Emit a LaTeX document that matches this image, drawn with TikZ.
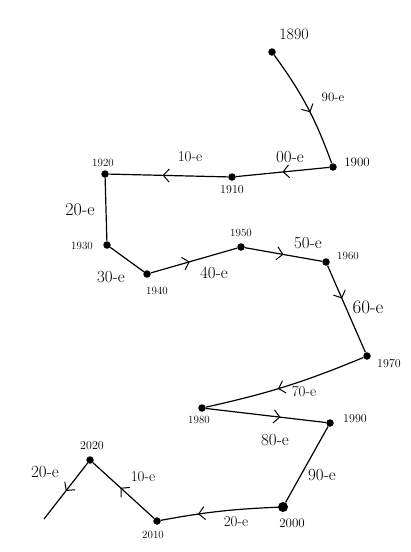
\documentclass[tikz,border=0pt]{standalone}
\usetikzlibrary{arrows.meta,decorations.markings}
\begin{document}
\begin{tikzpicture}[x=1pt,y=-1pt,
  dot/.style={circle,fill=black,inner sep=0pt,minimum size=7.5pt},
  bigdot/.style={circle,fill=black,inner sep=0pt,minimum size=10pt},
  yr/.style={font=\fontsize{11}{11}\selectfont,inner sep=0pt},
  dec/.style={font=\fontsize{15}{15}\selectfont,inner sep=0pt},
  seg/.style={line width=1.2pt},
  mid/.style={postaction={decorate,decoration={markings,mark=at position #1 with {\arrow{Straight Barb[length=6pt,width=13pt,line width=1pt]}}}}}]
\useasboundingbox (0,0) rectangle (410,552);
% dots
\node[dot] (n1890) at (272,52) {};
\node[dot] (n1900) at (333,167) {};
\node[dot] (n1910) at (232,177) {};
\node[dot] (n1920) at (105,174) {};
\node[dot] (n1930) at (107,245) {};
\node[dot] (n1940) at (147,274) {};
\node[dot] (n1950) at (241,247) {};
\node[dot] (n1960) at (326,262) {};
\node[dot] (n1970) at (367,356) {};
\node[dot] (n1980) at (202,408) {};
\node[dot] (n1990) at (330,423) {};
\node[bigdot] (n2000) at (283,507) {};
\node[dot] (n2010) at (157,521) {};
\node[dot] (n2020) at (90,460) {};
\coordinate (nend) at (44,519);
% connectors
\draw[seg,mid=0.55] (n1890) to[bend left=8] (n1900);
\draw[seg,mid=0.5] (n1900) -- (n1910);
\draw[seg,mid=0.55] (n1910) -- (n1920);
\draw[seg] (n1920) -- (n1930);
\draw[seg] (n1930) -- (n1940);
\draw[seg,mid=0.45] (n1940) -- (n1950);
\draw[seg,mid=0.5] (n1950) -- (n1960);
\draw[seg,mid=0.38] (n1960) -- (n1970);
\draw[seg,mid=0.55] (n1970) to[bend left=5] (n1980);
\draw[seg,mid=0.62] (n1980) -- (n1990);
\draw[seg] (n1990) -- (n2000);
\draw[seg,mid=0.68] (n2000) to[bend right=4] (n2010);
\draw[seg,mid=0.55] (n2010) -- (n2020);
\draw[seg,mid=0.5] (n2020) -- (nend);
% year labels
\node[font=\fontsize{16}{16}\selectfont,inner sep=0pt] (l1890) at (294,34) {1890};
\node[yr,font=\fontsize{13}{13}\selectfont] (l1900) at (357,162) {1900};
\node[yr,font=\fontsize{12}{12}\selectfont] (l1910) at (232,190) {1910};
\node[yr] (l1920) at (103,163) {1920};
\node[yr] (l1930) at (82,246) {1930};
\node[yr] (l1940) at (157,291) {1940};
\node[yr] (l1950) at (241,233) {1950};
\node[yr] (l1960) at (348,256) {1960};
\node[yr,font=\fontsize{12}{12}\selectfont] (l1970) at (389,364) {1970};
\node[yr] (l1980) at (199,420) {1980};
\node[yr,font=\fontsize{12}{12}\selectfont] (l1990) at (355,419) {1990};
\node[yr,font=\fontsize{13}{13}\selectfont] (l2000) at (292,523) {2000};
\node[yr] (l2010) at (153,535) {2010};
\node[yr,font=\fontsize{12}{12}\selectfont] (l2020) at (92,446) {2020};
% decade labels
\node[dec,font=\fontsize{13}{13}\selectfont] (d90a) at (333,97) {90-e};
\node[dec,font=\fontsize{17}{17}\selectfont] (d00) at (290,157) {00-e};
\node[dec] (d10a) at (190,157) {10-e};
\node[dec,font=\fontsize{18}{18}\selectfont] (d20a) at (80,210) {20-e};
\node[dec,font=\fontsize{17}{17}\selectfont] (d30) at (111,277) {30-e};
\node[dec,font=\fontsize{17}{17}\selectfont] (d40) at (214,273) {40-e};
\node[dec,font=\fontsize{17}{17}\selectfont] (d50) at (308,243) {50-e};
\node[dec,font=\fontsize{19}{19}\selectfont] (d60) at (368,307) {60-e};
\node[dec] (d70) at (304,392) {70-e};
\node[dec,font=\fontsize{17}{17}\selectfont] (d80) at (275,440) {80-e};
\node[dec,font=\fontsize{17}{17}\selectfont] (d90b) at (322,475) {90-e};
\node[dec] (d20b) at (236,522) {20-e};
\node[dec] (d10b) at (143,477) {10-e};
\node[dec,font=\fontsize{17}{17}\selectfont] (d20c) at (45,472) {20-e};
\end{tikzpicture}
\end{document}
